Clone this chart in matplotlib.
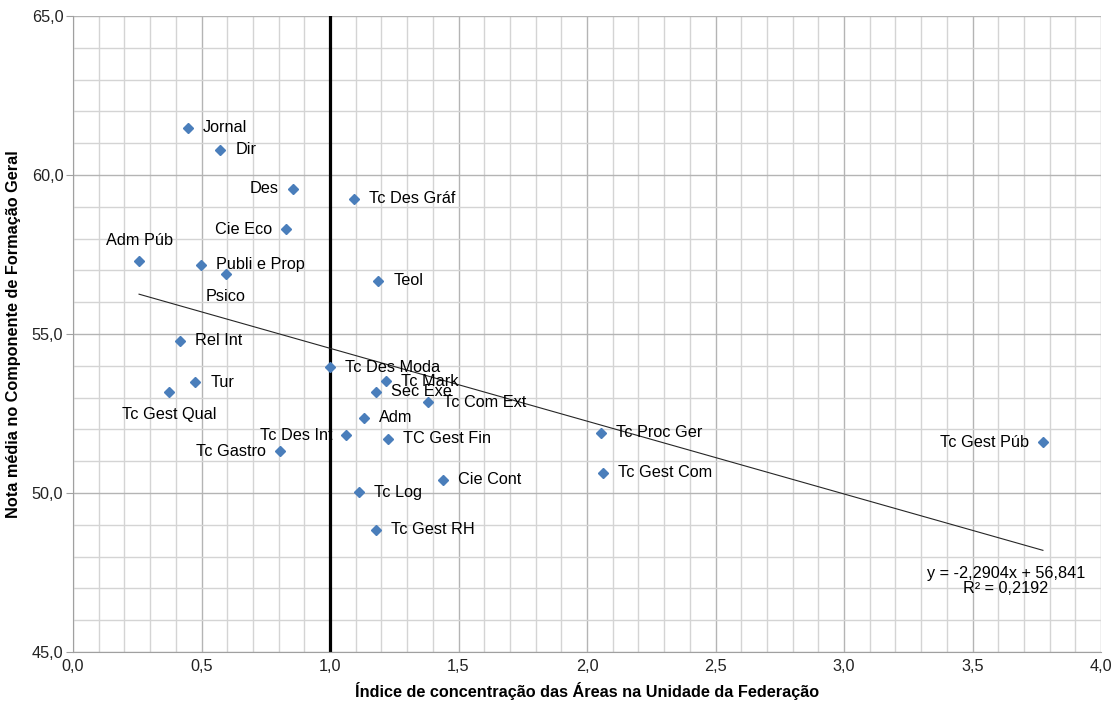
import numpy as np
import matplotlib
matplotlib.use('Agg')
import matplotlib.pyplot as plt
from matplotlib.ticker import MultipleLocator, FuncFormatter

plt.rcParams['font.family'] = ['Liberation Sans', 'DejaVu Sans']

# dados
areas = ['Jornal', 'Dir', 'Des', 'Tc Des Gráf', 'Cie Eco', 'Adm Púb', 'Publi e Prop',
         'Psico', 'Teol', 'Rel Int', 'Tc Des Moda', 'Tur', 'Tc Mark', 'Tc Gest Qual',
         'Sec Exe', 'Tc Com Ext', 'Adm', 'Tc Des Int', 'TC Gest Fin', 'Tc Gastro',
         'Tc Proc Ger', 'Tc Gest Com', 'Tc Gest Púb', 'Cie Cont', 'Tc Log', 'Tc Gest RH']
indice = [0.447, 0.572, 0.856, 1.093, 0.829, 0.257, 0.498,
          0.595, 1.187, 0.416, 1.000, 0.475, 1.218, 0.374,
          1.179, 1.381, 1.132, 1.062, 1.226, 0.805,
          2.054, 2.062, 3.774, 1.440, 1.113, 1.179]
nota = [61.48, 60.79, 59.56, 59.25, 58.30, 57.30, 57.17,
        56.89, 56.67, 54.78, 53.96, 53.49, 53.52, 53.18,
        53.18, 52.86, 52.36, 51.82, 51.70, 51.32,
        51.89, 50.63, 51.60, 50.41, 50.03, 48.84]
# posicao do rotulo: r = direita, l = esquerda, a = acima, b = abaixo
pos_rotulo = ['r', 'r', 'l', 'r', 'l', 'a', 'r',
              'b', 'r', 'r', 'r', 'r', 'r', 'b',
              'r', 'r', 'r', 'l', 'r', 'l',
              'r', 'r', 'l', 'r', 'r', 'r']

# linha de tendencia (Excel)
incl = -2.2904
inter = 56.841
r2 = 0.2192

fs = 11.7

fig = plt.figure(figsize=(11.13, 7.08), dpi=100)
ax = fig.add_axes([73/1113, 1-652/708, (1101-73)/1113, (652-16)/708])

ax.set_xlim(0, 4)
ax.set_ylim(45, 65)
ax.xaxis.set_major_locator(MultipleLocator(0.5))
ax.xaxis.set_minor_locator(MultipleLocator(0.1))
ax.yaxis.set_major_locator(MultipleLocator(5))
ax.yaxis.set_minor_locator(MultipleLocator(1))
virgula = FuncFormatter(lambda v, p: ('%.1f' % v).replace('.', ','))
ax.xaxis.set_major_formatter(virgula)
ax.yaxis.set_major_formatter(virgula)
ax.grid(which='major', color='#b4b4b4', linewidth=1.0)
ax.grid(which='minor', color='#d4d4d4', linewidth=1.0)
ax.set_axisbelow(True)
for s in ['top', 'right']:
    ax.spines[s].set_visible(False)
for s in ['left', 'bottom']:
    ax.spines[s].set_color('#a0a0a0')
ax.tick_params(axis='y', which='major', length=5, color='#a0a0a0', labelsize=fs,
               labelcolor='#222222', pad=2)
ax.tick_params(axis='x', which='major', length=0, labelsize=fs,
               labelcolor='#222222', pad=5)
ax.tick_params(which='minor', length=0)

ax.axvline(1.0, color='black', linewidth=2.3, zorder=2)

xs = np.array([min(indice), max(indice)])
ax.plot(xs, incl*xs + inter, color='#262626', linewidth=0.8, zorder=3)

ax.plot(indice, nota, linestyle='none', marker='D', markersize=5.5,
        color='#4a7ebb', zorder=4)

for nome, x, y, p in zip(areas, indice, nota, pos_rotulo):
    if p == 'r':
        ax.annotate(nome, (x, y), xytext=(11, 0), textcoords='offset points',
                    ha='left', va='center', fontsize=fs)
    elif p == 'l':
        ax.annotate(nome, (x, y), xytext=(-10, 0), textcoords='offset points',
                    ha='right', va='center', fontsize=fs)
    elif p == 'a':
        ax.annotate(nome, (x, y), xytext=(0, 15), textcoords='offset points',
                    ha='center', va='center', fontsize=fs)
    else:
        ax.annotate(nome, (x, y), xytext=(0, -16), textcoords='offset points',
                    ha='center', va='center', fontsize=fs)

eq = 'y = %sx + %s' % (('%.4f' % incl).replace('.', ','), ('%.3f' % inter).replace('.', ','))
ax.text(3.63, 47.23, eq + '\nR² = ' + ('%.4f' % r2).replace('.', ','),
        ha='center', va='center', fontsize=fs, linespacing=1.0)

ax.set_xlabel('Índice de concentração das Áreas na Unidade da Federação',
              fontsize=fs, fontweight='bold', labelpad=6)
ax.set_ylabel('Nota média no Componente de Formação Geral',
              fontsize=fs, fontweight='bold', labelpad=8)

fig.savefig('out.png', dpi=100)
